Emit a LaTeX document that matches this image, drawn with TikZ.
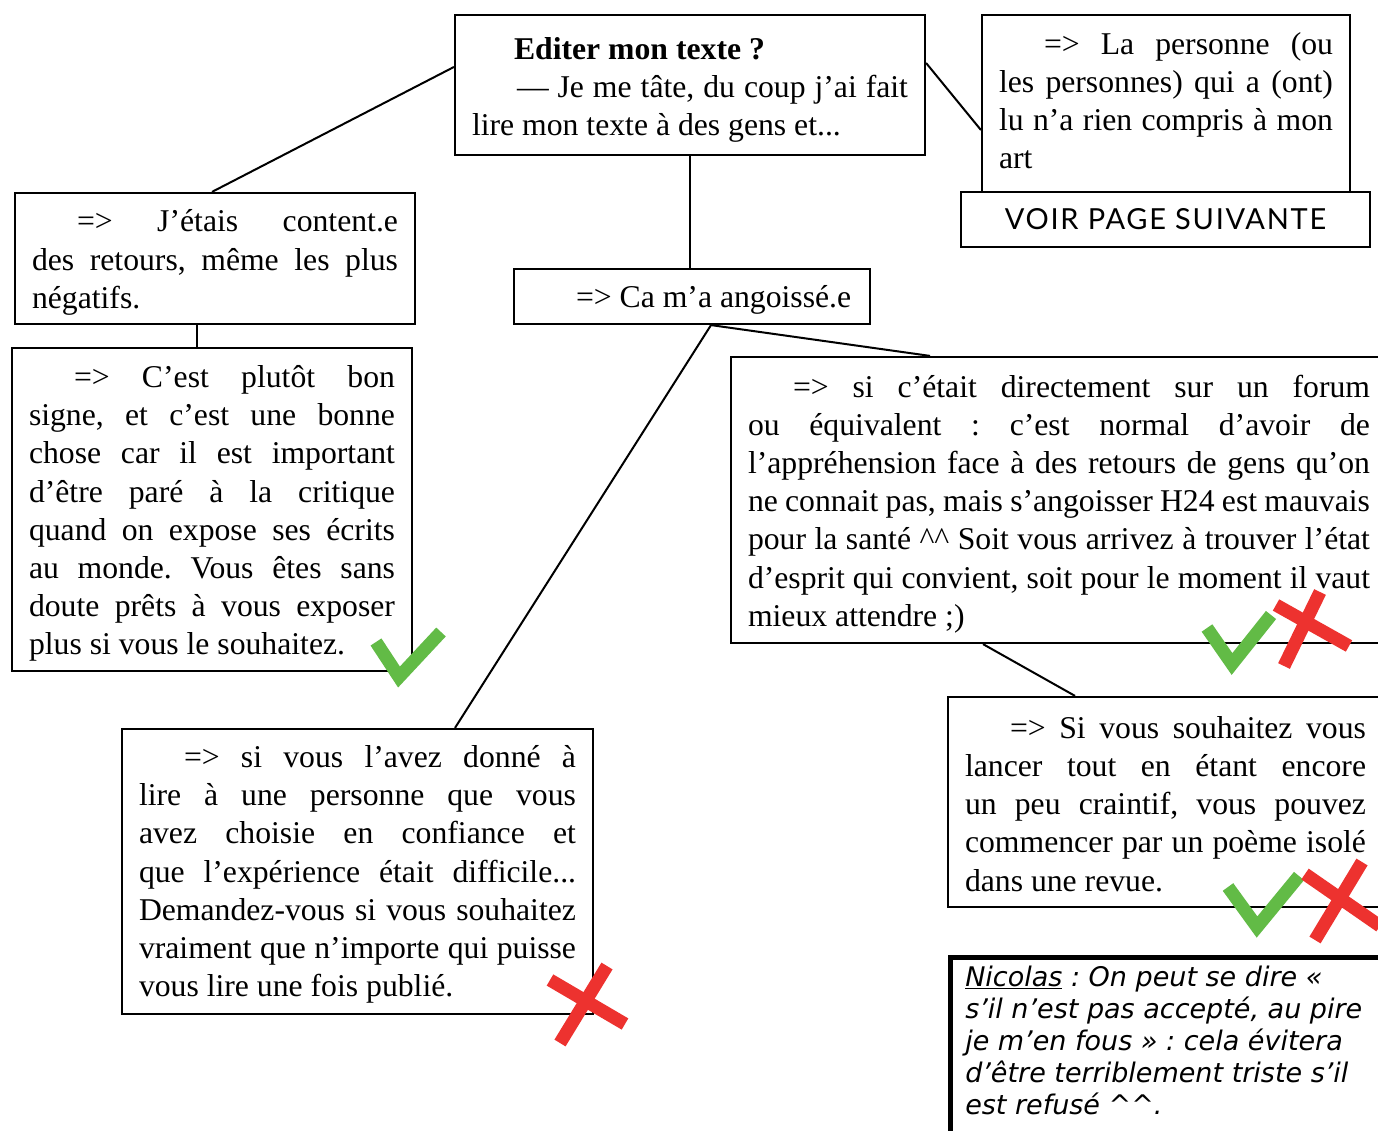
\documentclass[tikz,border=0pt]{standalone}
\usepackage{fontspec}
\setmainfont{Liberation Serif}
\newfontfamily\handfont{DejaVu Sans}
\newfontfamily\voirfont[LetterSpace=6]{Lato}
\definecolor{okgreen}{RGB}{98,187,70}
\definecolor{nored}{RGB}{237,50,47}
\newcommand{\ind}{\hspace*{45pt}}
\newcommand{\cc}{\textasciicircum\textasciicircum}
\newcommand{\tp}[1]{\rule{0pt}{#1pt}}
\frenchspacing
\begin{document}
\begin{tikzpicture}[x=1pt,y=-1pt,
  box/.style={draw, line width=2.2pt, align=justify, inner xsep=17pt, inner ysep=0pt,
    font=\fontsize{31.7}{38.2}\selectfont\frenchspacing},
  link/.style={line width=2pt},
  okmark/.style={okgreen, line width=13pt},
  nomark/.style={nored, line width=13pt}]
\clip (0,0) rectangle (1378,1131);
\fill[white] (0,0) rectangle (1378,1131);

\node[box, text width=436pt, minimum height=140pt] (n1) at (690,85)
  {\tp{32}\hspace*{42pt}\textbf{Editer mon texte ?}\par
   \ind — Je me tâte, du coup j’ai fait\linebreak lire mon texte à des gens et...};

\node[box, text width=334pt, minimum height=177pt] (n2) at (1166,103.5)
  {\ind=> La personne (ou\linebreak les personnes) qui a (ont)\linebreak lu n’a rien compris à mon\linebreak art\rule[-6pt]{0pt}{0pt}};

\node[draw, line width=2.2pt, minimum width=409pt, minimum height=55pt, inner sep=0pt,
  font=\voirfont\fontsize{29}{32}\selectfont] (n3) at (1165.5,219.5) {VOIR PAGE SUIVANTE};

\node[box, text width=366pt, minimum height=131pt] (n4) at (215,258.5)
  {\tp{30}\ind=> J’étais content.e\linebreak des retours, même les plus\linebreak négatifs.};

\node[box, text width=322pt, minimum height=55pt] (n5) at (692,296.5)
  {\tp{28}\ind=> Ca m’a angoissé.e};

\node[box, text width=366pt, minimum height=323pt] (n6) at (212,509.5)
  {\tp{30}\ind=> C’est plutôt bon\linebreak signe, et c’est une bonne\linebreak chose car il est important\linebreak d’être paré à la critique\linebreak quand on expose ses écrits\linebreak au monde. Vous êtes sans\linebreak doute prêts à vous exposer\linebreak plus si vous le souhaitez.};

\node[box, text width=622pt, minimum height=286pt] (n7) at (1059,500)
  {\tp{30}\ind=> si c’était directement sur un forum\linebreak ou équivalent : c’est normal d’avoir de\linebreak l’appréhension face à des retours de gens qu’on\linebreak ne connait pas, mais s’angoisser H24 est mauvais\linebreak pour la santé \cc{} Soit vous arrivez à trouver l’état\linebreak d’esprit qui convient, soit pour le moment il vaut\linebreak mieux attendre ;)};

\node[box, text width=437pt, minimum height=285pt] (n8) at (357.5,871.5)
  {\tp{28}\ind=> si vous l’avez donné à\linebreak lire à une personne que vous\linebreak avez choisie en confiance et\linebreak que l’expérience était difficile...\linebreak Demandez-vous si vous souhaitez\linebreak vraiment que n’importe qui puisse\linebreak vous lire une fois publié.};

\node[box, text width=401pt, minimum height=210pt] (n9) at (1165.5,802)
  {\tp{26}\ind=> Si vous souhaitez vous\linebreak lancer tout en étant encore\linebreak un peu craintif, vous pouvez\linebreak commencer par un poème isolé\linebreak dans une revue.};

\node[draw, line width=4.5pt, anchor=north west, inner xsep=15pt, inner ysep=9pt,
  font=\handfont\itshape\fontsize{27}{32}\selectfont\frenchspacing] (n10) at (948,955)
  {\parbox[c][220pt][t]{440pt}{\raggedright \underline{Nicolas} : On peut se dire «\\
   s’il n’est pas accepté, au pire\\ je m’en fous » : cela évitera\\
   d’être terriblement triste s’il\\ est refusé \cc.}};

% connectors
\draw[link] ([yshift=18pt]n1.west) -- ([xshift=-3pt]n4.north);
\draw[link] ([yshift=22pt]n1.east) -- ([yshift=-26.5pt]n2.west);
\draw[link] (n1.south) -- (n5.north -| n1.south);
\draw[link] ([xshift=-18pt]n4.south) -- ([xshift=-15pt]n6.north);
\draw[link] ([xshift=19pt]n5.south) -- ([xshift=97.5pt]n8.north);
\draw[link] ([xshift=19pt]n5.south) -- ([xshift=-129pt]n7.north);
\draw[link] ([xshift=-76pt]n7.south) -- ([xshift=-90.5pt]n9.north);

% marks
\draw[okmark] (376,642) -- (399,677) -- (441,632);
\draw[okmark] (1207,628) -- (1232,664) -- (1271,615);
\draw[nomark] (1276,605) -- (1349,646);
\draw[nomark] (1320,592) -- (1284,666);
\draw[nomark] (550,980) -- (625,1024);
\draw[nomark] (607,966) -- (560,1043);
\draw[okmark] (1228,887) -- (1257,927) -- (1299,876);
\draw[nomark] (1305,874) -- (1380,926);
\draw[nomark] (1362,862) -- (1315,940);
\end{tikzpicture}
\end{document}
